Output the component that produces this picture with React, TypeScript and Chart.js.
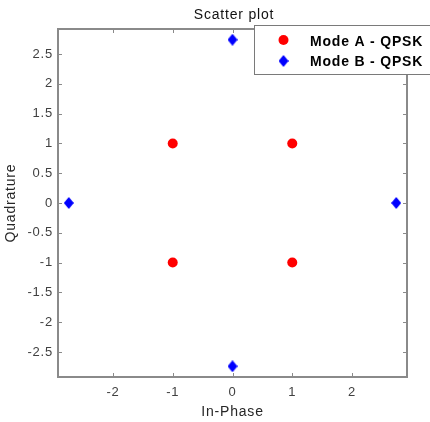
import React, { useEffect, useRef } from 'react';
import { Chart, registerables } from 'chart.js';

Chart.register(...registerables);

// ---- data ----
const titleText = 'Scatter plot';
const xTitle = 'In-Phase';
const yTitle = 'Quadrature';
const modeALabel = 'Mode A - QPSK';
const modeBLabel = 'Mode B - QPSK';
const modeAI = [1, -1, -1, 1];
const modeAQ = [1, 1, -1, -1];
const modeBI = [2.74, 0, -2.74, 0];
const modeBQ = [0, 2.74, 0, -2.74];
const xTicks = [-2, -1, 0, 1, 2];
const yTicks = [-2.5, -2, -1.5, -1, -0.5, 0, 0.5, 1, 1.5, 2, 2.5];
const axisLimit = 2.92;

const FONT = '"Liberation Sans", Arial, Helvetica, sans-serif';
const AXIS_GRAY = '#8a8a8a';

function makeDiamond(w: number, h: number, color: string): HTMLCanvasElement {
  const c = document.createElement('canvas');
  c.width = w;
  c.height = h;
  const g = c.getContext('2d')!;
  g.fillStyle = color;
  g.beginPath();
  g.moveTo(w / 2, 0);
  g.lineTo(w, h / 2);
  g.lineTo(w / 2, h);
  g.lineTo(0, h / 2);
  g.closePath();
  g.fill();
  return c;
}

const fmt = (v: any) => String(v);

const decorPlugin = {
  id: 'decor',
  beforeDraw(chart: any) {
    try { chart.ctx.letterSpacing = '0.8px'; } catch (e) {}
  },
  afterDraw(chart: any) {
    const ctx: CanvasRenderingContext2D = chart.ctx;
    const { left, right, top, bottom } = chart.chartArea;
    const xs = chart.scales.x;
    const ys = chart.scales.y;
    ctx.save();
    // box
    ctx.strokeStyle = AXIS_GRAY;
    ctx.lineWidth = 2;
    ctx.strokeRect(left, top, right - left, bottom - top);
    // inward ticks
    ctx.lineWidth = 1;
    ctx.beginPath();
    xTicks.forEach((v) => {
      const px = Math.round(xs.getPixelForValue(v)) + 0.5;
      ctx.moveTo(px, bottom);
      ctx.lineTo(px, bottom - 4);
      ctx.moveTo(px, top);
      ctx.lineTo(px, top + 4);
    });
    yTicks.forEach((v) => {
      const py = Math.round(ys.getPixelForValue(v)) + 0.5;
      ctx.moveTo(left, py);
      ctx.lineTo(left + 4, py);
      ctx.moveTo(right, py);
      ctx.lineTo(right - 4, py);
    });
    ctx.stroke();

    // title
    try { (ctx as any).letterSpacing = '0.8px'; } catch (e) {}
    ctx.fillStyle = '#111111';
    ctx.font = `14px ${FONT}`;
    ctx.textAlign = 'center';
    ctx.textBaseline = 'alphabetic';
    ctx.fillText(titleText, (left + right) / 2 + 1.5, 19);

    // legend
    const lx = 254;
    const ly = 25;
    ctx.fillStyle = '#ffffff';
    ctx.fillRect(lx, ly, 200, 49);
    ctx.strokeStyle = '#7a7a7a';
    ctx.lineWidth = 1;
    ctx.strokeRect(lx + 0.5, ly + 0.5, 200, 49);

    const ds = chart.data.datasets;
    // Mode A marker
    ctx.fillStyle = ds[0].backgroundColor;
    ctx.beginPath();
    ctx.arc(283.5, 40, 5, 0, Math.PI * 2);
    ctx.fill();
    // Mode B marker
    const img = ds[1].pointStyle as HTMLCanvasElement;
    ctx.drawImage(img, 283.5 - img.width / 2, 61 - img.height / 2);

    ctx.fillStyle = '#000000';
    ctx.font = `bold 14px ${FONT}`;
    ctx.textAlign = 'left';
    ctx.textBaseline = 'alphabetic';
    ctx.fillText(ds[0].label, 310, 45.5);
    ctx.fillText(ds[1].label, 310, 66);
    ctx.restore();
  },
};

export default function App() {
  const ref = useRef<HTMLCanvasElement | null>(null);

  useEffect(() => {
    if (!ref.current) return;
    const diamond = makeDiamond(10, 12, '#0000ff');
    const chart = new Chart(ref.current, {
      type: 'scatter',
      data: {
        datasets: [
          {
            label: modeALabel,
            data: modeAI.map((v, i) => ({ x: v, y: modeAQ[i] })),
            backgroundColor: '#ff0000',
            borderColor: '#ff0000',
            borderWidth: 0,
            pointRadius: 5,
            pointStyle: 'circle',
          },
          {
            label: modeBLabel,
            data: modeBI.map((v, i) => ({ x: v, y: modeBQ[i] })),
            backgroundColor: '#0000ff',
            borderColor: '#0000ff',
            borderWidth: 0,
            pointRadius: 6,
            pointStyle: diamond,
          },
        ],
      },
      options: {
        responsive: false,
        devicePixelRatio: 1,
        animation: false,
        events: [],
        locale: 'en-US',
        layout: { padding: { top: 29, right: 23, left: 0, bottom: 0 } },
        plugins: {
          legend: { display: false },
          tooltip: { enabled: false },
          title: { display: false },
        },
        scales: {
          x: {
            type: 'linear',
            min: -axisLimit,
            max: axisLimit,
            grid: { display: false, drawTicks: false },
            border: { display: false },
            ticks: { padding: 8, font: { family: FONT, size: 13 }, color: '#404040', callback: fmt },
            afterBuildTicks: (s: any) => {
              s.ticks = xTicks.map((v) => ({ value: v }));
            },
            afterFit: (s: any) => {
              s.height = 45;
            },
            title: {
              display: true,
              text: xTitle,
              font: { family: FONT, size: 14 },
              color: '#262626',
              padding: { top: 0, bottom: 1 },
            },
          },
          y: {
            type: 'linear',
            min: -axisLimit,
            max: axisLimit,
            grid: { display: false, drawTicks: false },
            border: { display: false },
            ticks: { padding: 5, font: { family: FONT, size: 13 }, color: '#404040', callback: fmt },
            afterBuildTicks: (s: any) => {
              s.ticks = yTicks.map((v) => ({ value: v }));
            },
            afterFit: (s: any) => {
              s.width = 58;
            },
            title: {
              display: true,
              text: yTitle,
              font: { family: FONT, size: 14 },
              color: '#262626',
              padding: { top: 3, bottom: 0 },
            },
          },
        },
      },
      plugins: [decorPlugin],
    } as any);
    return () => chart.destroy();
  }, []);

  return (
    <div style={{ position: 'absolute', left: 0, top: 0, width: 430, height: 422, background: '#ffffff' }}>
      <canvas ref={ref} width={430} height={422} style={{ display: 'block', width: 430, height: 422 }} />
    </div>
  );
}
